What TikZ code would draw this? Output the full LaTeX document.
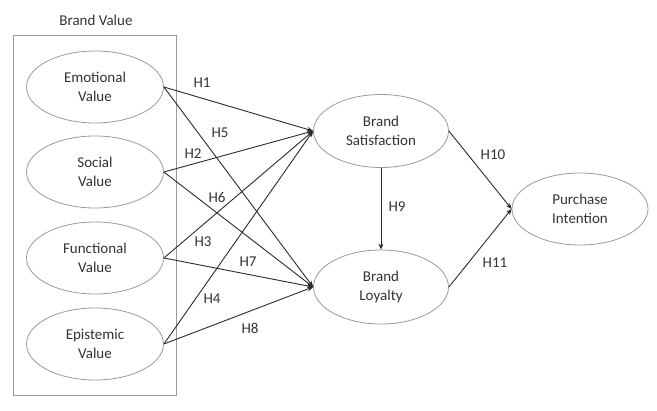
\documentclass[tikz,border=0pt]{standalone}
\usepackage{fontspec}
\setmainfont{Carlito}
\usetikzlibrary{arrows.meta,shapes.geometric}
\definecolor{bvLine}{HTML}{2b2b2b}
\definecolor{bvEdge}{HTML}{9a9a9a}
\definecolor{bvText}{HTML}{333333}
\tikzset{
  >={Stealth[length=6pt,width=5pt]},
  construct/.style={ellipse, draw=bvEdge, line width=0.8pt, minimum width=137pt,
              minimum height=72pt, align=center, inner sep=0pt, font=\fontsize{15}{19}\selectfont,
              text=bvText},
  frame/.style={draw=bvEdge, line width=0.8pt, minimum width=163pt, minimum height=360pt, inner sep=0pt},
  hyp/.style={->, draw=bvLine, line width=0.9pt},
  hlbl/.style={font=\fontsize{15}{18}\selectfont, text=bvText, inner sep=0pt},
}
\begin{document}
\begin{tikzpicture}[x=1pt,y=-1pt]
  \useasboundingbox (0,0) rectangle (657,411);
  \node[frame] (bvbox) at (94.5,215) {};
  \node[hlbl] (bvlbl) at (96,20) {Brand Value};
  % value dimensions
  \node[construct] (emo) at (95,87) {Emotional\\Value};
  \node[construct] (soc) at (95,172) {Social\\Value};
  \node[construct] (fun) at (95,258) {Functional\\Value};
  \node[construct] (epi) at (95,344) {Epistemic\\Value};
  % outcomes
  \node[construct,minimum width=135pt,minimum height=73pt] (bs) at (381,131) {Brand\\Satisfaction};
  \node[construct,minimum width=135pt,minimum height=74pt] (bl) at (381,287) {Brand\\Loyalty};
  \node[construct,minimum width=136pt,minimum height=72pt] (pi) at (580,209) {Purchase\\Intention};
  % hypotheses
  \foreach \s in {emo,soc,fun,epi}{
    \draw[hyp] (\s.east) -- (bs.west);
    \draw[hyp] (\s.east) -- (bl.west);}
  \draw[hyp] (bs.south) -- (bl.north);
  \draw[hyp] (bs.east) -- (pi.west);
  \draw[hyp] (bl.east) -- (pi.west);
  % labels
  \node[hlbl] (h1) at (202,83) {H1};
  \node[hlbl] (h5) at (220,133) {H5};
  \node[hlbl] (h2) at (193,154) {H2};
  \node[hlbl] (h6) at (217,197) {H6};
  \node[hlbl] (h3) at (203,242) {H3};
  \node[hlbl] (h7) at (248,262) {H7};
  \node[hlbl] (h4) at (212,299) {H4};
  \node[hlbl] (h8) at (250,328) {H8};
  \node[hlbl] (h9) at (397,207) {H9};
  \node[hlbl] (h10) at (493,155) {H10};
  \node[hlbl] (h11) at (495,263) {H11};
\end{tikzpicture}
\end{document}
